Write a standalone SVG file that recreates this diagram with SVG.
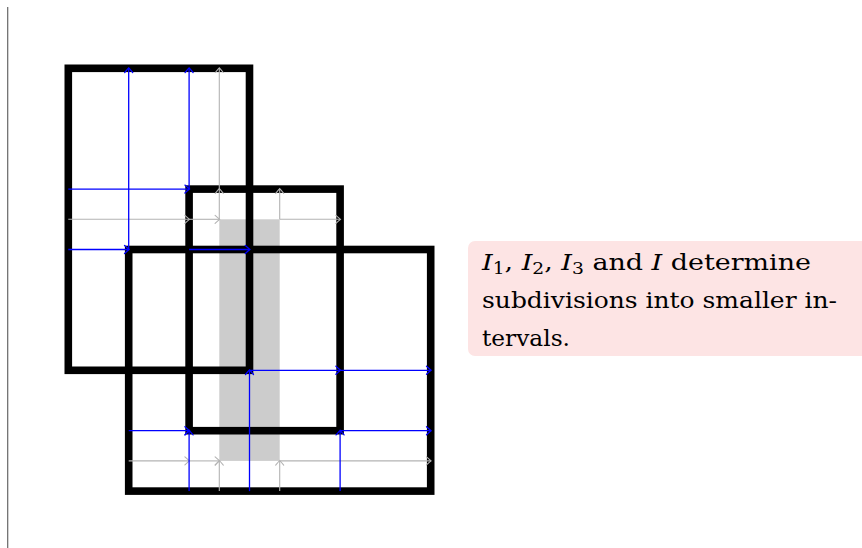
<svg xmlns="http://www.w3.org/2000/svg" width="862" height="548" viewBox="0 0 862 548">
<style>
.frame{fill:none;stroke:#000;stroke-width:7.6;stroke-linejoin:miter}
.b{stroke:#0000ff;stroke-width:1.3;fill:none;marker-end:url(#ab)}
.g{stroke:#b3b3b3;stroke-width:1.1;fill:none;marker-end:url(#ag)}
</style>
<defs>
<marker id="ab" markerUnits="userSpaceOnUse" markerWidth="12" markerHeight="12" viewBox="-6 -6 12 12" refX="0" refY="0" orient="auto" overflow="visible">
<path d="M-4.2,-4 Q-1,-1.2 0.4,0 Q-1,1.2 -4.2,4" fill="none" stroke="#0000ff" stroke-width="1.3" stroke-linecap="round"/>
</marker>
<marker id="ag" markerUnits="userSpaceOnUse" markerWidth="12" markerHeight="12" viewBox="-6 -6 12 12" refX="0" refY="0" orient="auto" overflow="visible">
<path d="M-4.2,-4 Q-1,-1.2 0.4,0 Q-1,1.2 -4.2,4" fill="none" stroke="#b3b3b3" stroke-width="1.1" stroke-linecap="round"/>
</marker>
</defs>
<rect width="862" height="548" fill="#fff"/>
<line x1="7.7" y1="7" x2="7.7" y2="548" stroke="#666" stroke-width="1.2"/>
<g id="shade">
<rect x="219.3" y="219.3" width="60.4" height="241.6" fill="#cccccc"/>
</g>
<g id="I1"><rect class="frame" x="68.3" y="68.3" width="181.2" height="302"/></g>
<g id="I2"><rect class="frame" x="189.1" y="189.1" width="151" height="241.6"/></g>
<g id="I"><rect class="frame" x="128.7" y="249.5" width="302" height="241.6"/></g>
<g id="connectors">
<line class="g" x1="68.3" y1="219.3" x2="189.1" y2="219.3"/>
<line class="g" x1="189.1" y1="219.3" x2="219.3" y2="219.3"/>
<line class="g" x1="279.7" y1="219.3" x2="340.1" y2="219.3"/>
<line class="g" x1="219.3" y1="219.3" x2="219.3" y2="189.1"/>
<line class="g" x1="219.3" y1="189.1" x2="219.3" y2="68.3"/>
<line class="g" x1="279.7" y1="219.3" x2="279.7" y2="189.1"/>
<line class="g" x1="128.7" y1="460.9" x2="189.1" y2="460.9"/>
<line class="g" x1="189.1" y1="460.9" x2="219.3" y2="460.9"/>
<line class="g" x1="279.7" y1="460.9" x2="430.7" y2="460.9"/>
<line class="g" x1="219.3" y1="491.1" x2="219.3" y2="460.9"/>
<line class="g" x1="279.7" y1="491.1" x2="279.7" y2="460.9"/>
<line class="b" x1="68.3" y1="189.1" x2="189.1" y2="189.1"/>
<line class="b" x1="189.1" y1="189.1" x2="189.1" y2="68.3"/>
<line class="b" x1="68.3" y1="249.5" x2="128.7" y2="249.5"/>
<line class="b" x1="128.7" y1="249.5" x2="128.7" y2="68.3"/>
<line class="b" x1="189.1" y1="249.5" x2="249.5" y2="249.5"/>
<line class="b" x1="249.5" y1="491.1" x2="249.5" y2="370.3"/>
<line class="b" x1="249.5" y1="370.3" x2="340.1" y2="370.3"/>
<line class="b" x1="340.1" y1="370.3" x2="430.7" y2="370.3"/>
<line class="b" x1="128.7" y1="430.7" x2="189.1" y2="430.7"/>
<line class="b" x1="189.1" y1="491.1" x2="189.1" y2="430.7"/>
<line class="b" x1="340.1" y1="491.1" x2="340.1" y2="430.7"/>
<line class="b" x1="340.1" y1="430.7" x2="430.7" y2="430.7"/>
</g>
<g id="note" font-family="'DejaVu Serif', serif" font-size="23" fill="#000">
<rect x="468" y="241" width="404" height="115" rx="7" fill="#fde4e4"/>
<text x="482" y="270" textLength="329" lengthAdjust="spacingAndGlyphs"><tspan font-style="italic">I</tspan><tspan font-size="16" dy="4">1</tspan><tspan dy="-4">, </tspan><tspan font-style="italic">I</tspan><tspan font-size="16" dy="4">2</tspan><tspan dy="-4">, </tspan><tspan font-style="italic">I</tspan><tspan font-size="16" dy="4">3</tspan><tspan dy="-4"> and </tspan><tspan font-style="italic">I</tspan><tspan> determine</tspan></text>
<text x="482" y="307.5" textLength="355" lengthAdjust="spacingAndGlyphs">subdivisions into smaller in-</text>
<text x="482" y="345.5" textLength="88" lengthAdjust="spacingAndGlyphs">tervals.</text>
</g>
</svg>
